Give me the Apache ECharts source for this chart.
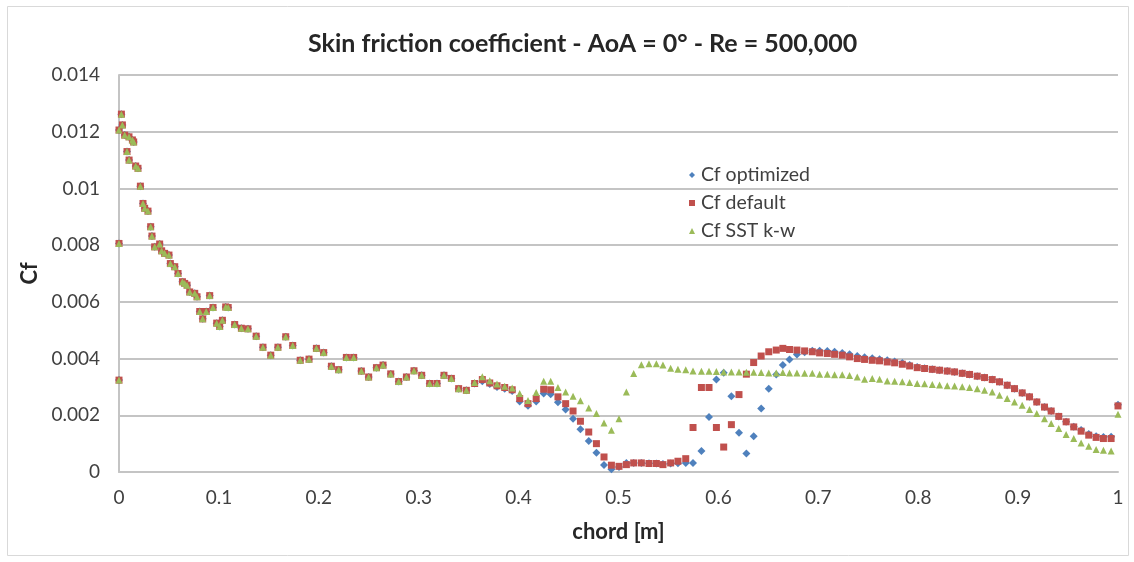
<!DOCTYPE html>
<html>
<head>
<meta charset="utf-8">
<script src="https://cdn.jsdelivr.net/npm/echarts@6/dist/echarts.min.js"></script>
<style>
  html, body { margin: 0; padding: 0; background: #ffffff; }
  #chart { width: 1134px; height: 562px; }
</style>
</head>
<body>
<div id="chart"></div>
<script>
// Chordwise stations [m]
const chord = [
  0, 0, 0, 0.0024, 0.0034, 0.0057, 0.008, 0.010, 0.0101, 0.0134,
  0.0147, 0.0167, 0.019, 0.0214, 0.024, 0.0257, 0.029, 0.0317, 0.033, 0.0357,
  0.0407, 0.0427, 0.0457, 0.05, 0.0514, 0.0558, 0.0591, 0.0635, 0.0658, 0.0681,
  0.0708, 0.0758, 0.0781, 0.0808, 0.0838, 0.0873, 0.0908, 0.0941, 0.0978, 0.1008,
  0.1035, 0.1068, 0.1093, 0.1158, 0.1225, 0.1291, 0.1373, 0.1441, 0.1519, 0.1591,
  0.1669, 0.1739, 0.1814, 0.1902, 0.1976, 0.2049, 0.2126, 0.2199, 0.2276, 0.2349,
  0.2426, 0.2499, 0.2577, 0.2643, 0.272, 0.28, 0.2877, 0.2953, 0.303, 0.311,
  0.3183, 0.3253, 0.3327, 0.34, 0.3477, 0.356, 0.3637, 0.3711, 0.3784, 0.3861,
  0.3936, 0.4011, 0.4094, 0.4176, 0.4251, 0.4321, 0.4394, 0.4471, 0.4545, 0.4619,
  0.4702, 0.4779, 0.4855, 0.4929, 0.5005, 0.5079, 0.5152, 0.5229, 0.5305, 0.5379,
  0.5445, 0.5522, 0.5595, 0.5673, 0.5746, 0.583, 0.5906, 0.598, 0.6053, 0.613,
  0.6206, 0.628, 0.6353, 0.6428, 0.6504, 0.6579, 0.6645, 0.6712, 0.6786, 0.6863,
  0.694, 0.7013, 0.709, 0.7163, 0.724, 0.7313, 0.739, 0.7463, 0.754, 0.7613,
  0.769, 0.7764, 0.7841, 0.7914, 0.799, 0.8064, 0.8141, 0.8214, 0.8291, 0.8364,
  0.8441, 0.8514, 0.8591, 0.8664, 0.8741, 0.8814, 0.8891, 0.8964, 0.9041, 0.9114,
  0.9187, 0.9264, 0.9331, 0.9407, 0.9481, 0.9557, 0.9631, 0.9707, 0.9781, 0.9854,
  0.9931, 1.0
];

// Skin friction coefficient, optimized transition model
const cfOptimized = [
  0.00324, 0.00806, 0.01206, 0.01262, 0.01224, 0.01188, 0.0113, 0.01182, 0.0110, 0.01171,
  0.01164, 0.01079, 0.01071, 0.01008, 0.00947, 0.0093, 0.0092, 0.00865, 0.00832, 0.00794,
  0.00804, 0.0078, 0.00771, 0.00765, 0.00735, 0.00724, 0.007, 0.00671, 0.00665, 0.00659,
  0.00635, 0.0063, 0.00618, 0.00566, 0.0054, 0.00566, 0.00622, 0.0058, 0.00525, 0.00513,
  0.00535, 0.00582, 0.0058, 0.0052, 0.00507, 0.00505, 0.00479, 0.0044, 0.00412, 0.0044,
  0.00477, 0.00446, 0.00394, 0.00398, 0.00436, 0.00421, 0.00373, 0.00361, 0.00404, 0.00404,
  0.00356, 0.00335, 0.00368, 0.00377, 0.00346, 0.00319, 0.00335, 0.00357, 0.00341, 0.00312,
  0.00312, 0.00341, 0.0033, 0.00294, 0.00288, 0.00312, 0.0032, 0.0031, 0.003, 0.00294,
  0.00286, 0.00249, 0.00234, 0.00249, 0.00277, 0.00274, 0.00246, 0.0022, 0.00188, 0.00151,
  0.00109, 0.00068, 0.00025, 0.0001, 0.00018, 0.00032, 0.00032, 0.00032, 0.00031, 0.0003,
  0.00028, 0.0003, 0.00031, 0.00032, 0.00032, 0.00074, 0.00194, 0.00326, 0.0035, 0.00267,
  0.00138, 0.00065, 0.00126, 0.00224, 0.00294, 0.00344, 0.00377, 0.00397, 0.00414, 0.00422,
  0.00428, 0.00428, 0.00427, 0.00424, 0.0042, 0.00415, 0.00409, 0.00405, 0.00401, 0.00398,
  0.00394, 0.0039, 0.00384, 0.00377, 0.0037, 0.00366, 0.00362, 0.00359, 0.00356, 0.00353,
  0.00348, 0.00344, 0.00338, 0.00333, 0.00326, 0.00318, 0.00306, 0.00294, 0.00279, 0.00265,
  0.00247, 0.00229, 0.00215, 0.00196, 0.00177, 0.0016, 0.00148, 0.00134, 0.00126, 0.00123,
  0.00124, 0.00237
];

// Skin friction coefficient, default transition model
const cfDefault = [
  0.00324, 0.00806, 0.01206, 0.01262, 0.01224, 0.01188, 0.0113, 0.01182, 0.0110, 0.01171,
  0.01164, 0.01079, 0.01071, 0.01008, 0.00947, 0.0093, 0.0092, 0.00865, 0.00832, 0.00794,
  0.00804, 0.0078, 0.00771, 0.00765, 0.00735, 0.00724, 0.007, 0.00671, 0.00665, 0.00659,
  0.00635, 0.0063, 0.00618, 0.00566, 0.0054, 0.00566, 0.00622, 0.0058, 0.00525, 0.00513,
  0.00535, 0.00582, 0.0058, 0.0052, 0.00507, 0.00505, 0.00479, 0.0044, 0.00412, 0.0044,
  0.00477, 0.00446, 0.00394, 0.00398, 0.00436, 0.00421, 0.00373, 0.00361, 0.00404, 0.00404,
  0.00356, 0.00335, 0.00368, 0.00377, 0.00346, 0.00319, 0.00335, 0.00357, 0.00341, 0.00312,
  0.00312, 0.00341, 0.0033, 0.00294, 0.00288, 0.00312, 0.00326, 0.00314, 0.00304, 0.00298,
  0.0029, 0.00259, 0.00241, 0.00259, 0.00292, 0.0029, 0.00265, 0.00241, 0.00215, 0.00179,
  0.00141, 0.001, 0.00053, 0.00024, 0.0002, 0.00026, 0.00032, 0.00032, 0.0003, 0.0003,
  0.00026, 0.00032, 0.00038, 0.00047, 0.00157, 0.00298, 0.00298, 0.00157, 0.00088, 0.00167,
  0.00273, 0.00345, 0.00386, 0.00409, 0.00424, 0.0043, 0.00436, 0.00432, 0.0043, 0.00427,
  0.00424, 0.0042, 0.00418, 0.00415, 0.00412, 0.00406, 0.004, 0.00397, 0.00394, 0.00392,
  0.00388, 0.00385, 0.0038, 0.00374, 0.00368, 0.00365, 0.00362, 0.00359, 0.00356, 0.00353,
  0.00348, 0.00344, 0.00338, 0.00333, 0.00326, 0.00318, 0.00306, 0.00294, 0.00279, 0.00265,
  0.00247, 0.00229, 0.00215, 0.00196, 0.00177, 0.00159, 0.00144, 0.0013, 0.00122, 0.00118,
  0.00118, 0.00233
];

// Skin friction coefficient, SST k-omega model
const cfSST = [
  0.00324, 0.00806, 0.01206, 0.01262, 0.01224, 0.01188, 0.0113, 0.01182, 0.0110, 0.01171,
  0.01164, 0.01079, 0.01071, 0.01008, 0.00947, 0.0093, 0.0092, 0.00865, 0.00832, 0.00794,
  0.00804, 0.0078, 0.00771, 0.00765, 0.00735, 0.00724, 0.007, 0.00671, 0.00665, 0.00659,
  0.00635, 0.0063, 0.00618, 0.00566, 0.0054, 0.00566, 0.00622, 0.0058, 0.00525, 0.00513,
  0.00535, 0.00582, 0.0058, 0.0052, 0.00507, 0.00505, 0.00479, 0.0044, 0.00412, 0.0044,
  0.00477, 0.00446, 0.00394, 0.00398, 0.00436, 0.00421, 0.00373, 0.00361, 0.00404, 0.00404,
  0.00356, 0.00335, 0.00368, 0.00377, 0.00346, 0.00319, 0.00335, 0.00357, 0.00341, 0.00312,
  0.00312, 0.00341, 0.0033, 0.00294, 0.00288, 0.00316, 0.00336, 0.00322, 0.0031, 0.00302,
  0.00296, 0.00277, 0.00252, 0.0028, 0.0032, 0.0032, 0.00298, 0.00282, 0.00267, 0.00251,
  0.00226, 0.00206, 0.00173, 0.00147, 0.00188, 0.00282, 0.00347, 0.00378, 0.00382, 0.00382,
  0.00377, 0.00366, 0.00362, 0.00361, 0.00356, 0.00355, 0.00355, 0.00354, 0.00353, 0.00353,
  0.00353, 0.00352, 0.00352, 0.00351, 0.00349, 0.00349, 0.00351, 0.00349, 0.00349, 0.00348,
  0.00348, 0.00345, 0.00345, 0.00343, 0.00343, 0.0034, 0.00335, 0.00327, 0.0033, 0.00327,
  0.00321, 0.0032, 0.00318, 0.00316, 0.00312, 0.00311, 0.00309, 0.00307, 0.00304, 0.00303,
  0.00301, 0.00298, 0.00294, 0.00288, 0.00282, 0.00271, 0.00259, 0.00247, 0.00235, 0.0022,
  0.00206, 0.00188, 0.00171, 0.00153, 0.00132, 0.00118, 0.00102, 0.00091, 0.00079, 0.00077,
  0.00074, 0.00204
];

const seriesNames = ['Cf optimized', 'Cf default', 'Cf SST k-w'];
const seriesColors = ['#4f81bd', '#c0504d', '#9bbb59'];
const seriesSymbols = ['diamond', 'rect', 'triangle'];
const seriesValues = [cfOptimized, cfDefault, cfSST];

const pairs = values => chord.map((x, i) => [x, values[i]]).filter(p => p[1] != null);

const FONT = 'Lato, "Open Sans", sans-serif';
const GRID_COLOR = '#c4c4c4';

const chart = echarts.init(document.getElementById('chart'), null, { renderer: 'canvas' });

chart.setOption({
  backgroundColor: '#ffffff',
  animation: false,
  title: {
    text: 'Skin friction coefficient - AoA = 0\u00b0 - Re = 500,000',
    left: 303,
    top: 26,
    textStyle: { fontFamily: FONT, fontSize: 25, fontWeight: 'bold', color: '#262626' }
  },
  legend: {
    orient: 'vertical',
    left: 684,
    top: 160,
    itemGap: 8,
    itemWidth: 6,
    itemHeight: 6,
    textStyle: { fontFamily: FONT, fontSize: 19.5, color: '#404040', padding: [0, 0, 0, 1] },
    data: seriesNames.map((n, i) => ({ name: n, icon: seriesSymbols[i] }))
  },
  grid: { left: 119, right: 16, top: 75, bottom: 90, containLabel: false },
  xAxis: {
    type: 'value',
    min: 0, max: 1, interval: 0.1,
    name: 'chord [m]',
    nameLocation: 'middle',
    nameGap: 49,
    nameTextStyle: { fontFamily: FONT, fontSize: 22, fontWeight: 'bold', color: '#262626' },
    axisLine: { show: true, onZero: false, lineStyle: { color: GRID_COLOR, width: 2 } },
    axisTick: { show: false },
    axisLabel: { fontFamily: FONT, fontSize: 19, color: '#404040', margin: 16,
                 formatter: v => String(parseFloat(v.toFixed(1))) },
    splitLine: { show: false }
  },
  yAxis: {
    type: 'value',
    min: 0, max: 0.014, interval: 0.002,
    name: 'Cf',
    nameLocation: 'middle',
    nameGap: 78,
    nameRotate: 90,
    nameTextStyle: { fontFamily: FONT, fontSize: 22, fontWeight: 'bold', color: '#262626' },
    axisLine: { show: true, lineStyle: { color: GRID_COLOR, width: 2 } },
    axisTick: { show: false },
    axisLabel: { fontFamily: FONT, fontSize: 19, color: '#404040', margin: 19,
                 formatter: v => String(parseFloat(v.toFixed(3))) },
    splitLine: { show: true, lineStyle: { color: GRID_COLOR, width: 2 } }
  },
  graphic: [{
    type: 'rect',
    shape: { x: 7.5, y: 6.5, width: 1121, height: 549 },
    style: { fill: 'none', stroke: '#d9d9d9', lineWidth: 1 },
    silent: true,
    z: -1
  }],
  series: seriesNames.map((name, i) => ({
    name,
    type: 'scatter',
    symbol: seriesSymbols[i],
    symbolSize: seriesSymbols[i] === 'diamond' ? 8 : 7,
    itemStyle: { color: seriesColors[i], opacity: 1 },
    data: pairs(seriesValues[i]),
    z: 2 + i
  }))
});
</script>
</body>
</html>
